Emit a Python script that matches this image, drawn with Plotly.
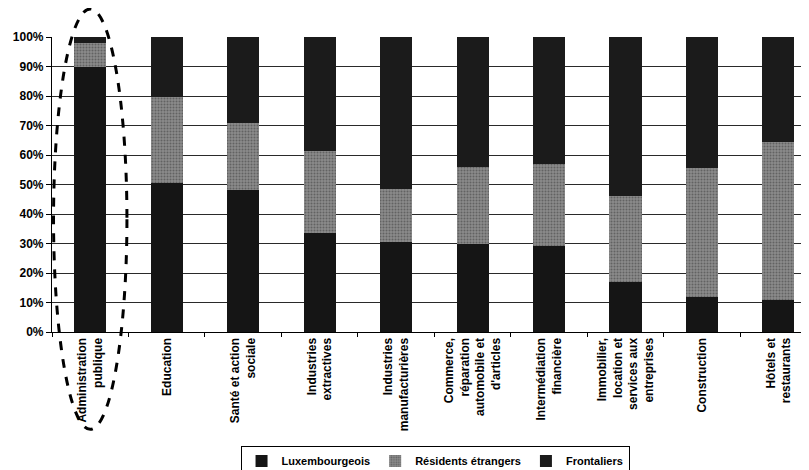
import plotly.graph_objects as go

secteurs = [
    "Administration<br>publique",
    "Education",
    "Santé et action<br>sociale",
    "Industries<br>extractives",
    "Industries<br>manufacturières",
    "Commerce,<br>réparation<br>automobile et<br>d'articles",
    "Intermédiation<br>financière",
    "Immobilier,<br>location et<br>services aux<br>entreprises",
    "Construction",
    "Hôtels et<br>restaurants",
]
luxembourgeois = [0.90, 0.505, 0.48, 0.335, 0.305, 0.30, 0.29, 0.17, 0.12, 0.11]
residents_etrangers = [0.08, 0.29, 0.23, 0.28, 0.18, 0.26, 0.28, 0.29, 0.435, 0.535]
frontaliers = [0.02, 0.205, 0.29, 0.385, 0.515, 0.44, 0.43, 0.54, 0.445, 0.355]

font_fam = "Liberation Sans Narrow, Arial Narrow, sans-serif"

fig = go.Figure()
fig.add_trace(go.Bar(x=secteurs, y=luxembourgeois, name="Luxembourgeois",
                     marker=dict(color="#151515", line=dict(width=0))))
fig.add_trace(go.Bar(x=secteurs, y=residents_etrangers, name="Résidents étrangers",
                     marker=dict(color="#858585", line=dict(width=0),
                                 pattern=dict(shape=".", fgcolor="#3a3a3a", bgcolor="#8a8a8a",
                                              size=3, solidity=0.35))))
fig.add_trace(go.Bar(x=secteurs, y=frontaliers, name="Frontaliers",
                     marker=dict(color="#1b1b1b", line=dict(width=0))))

# ellipse en tirets autour de l'administration publique
fig.add_shape(type="circle", xref="x", yref="paper",
              x0=-0.48, x1=0.48, y0=-0.33, y1=1.095,
              line=dict(color="black", width=3, dash="dash"), layer="above")

# la page html ajoute une marge de 8 px autour de la figure
fig.update_layout(
    barmode="stack",
    bargap=0.58,
    width=801, height=462,
    margin=dict(l=44, r=0, t=29, b=138, autoexpand=False),
    plot_bgcolor="white", paper_bgcolor="white",
    font=dict(family=font_fam, size=12, color="black"),
    showlegend=True,
    legend=dict(orientation="h", x=0.506, xanchor="center", y=-0.385, yanchor="top",
                traceorder="normal",
                bordercolor="black", borderwidth=1, font=dict(size=11, weight="bold"),
                itemwidth=30, tracegroupgap=0),
    xaxis=dict(range=[-0.5, 9.4], showline=True, linecolor="black", linewidth=1.2,
               automargin=False,
               ticks="outside", tickson="boundaries", ticklen=4, tickcolor="black",
               tickangle=-90, tickfont=dict(size=12, family=font_fam, weight="bold"),
               showgrid=False),
    yaxis=dict(range=[0, 1], tickvals=[i / 10 for i in range(11)], tickformat=".0%",
               automargin=False,
               showline=True, linecolor="black", linewidth=1.2,
               ticks="outside", ticklen=5, tickcolor="black",
               showgrid=True, gridcolor="#2a2a2a", gridwidth=1.3,
               tickfont=dict(size=12, family=font_fam, weight="bold")),
)

fig.write_html("out.html")
